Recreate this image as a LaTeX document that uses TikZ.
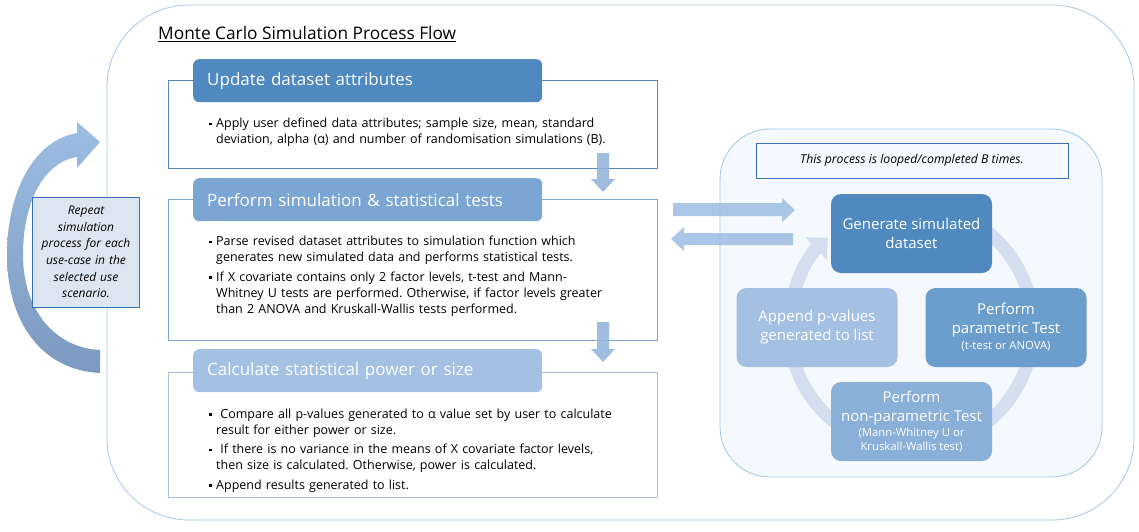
\documentclass[tikz,border=0pt]{standalone}
\usepackage{fontspec}
\setmainfont{Open Sans}
\usetikzlibrary{arrows.meta,positioning}
\definecolor{hdrA}{HTML}{4F89C0}
\definecolor{hdrB}{HTML}{7BA5D3}
\definecolor{hdrC}{HTML}{A4C0E3}
\definecolor{cycB}{HTML}{6B9DCD}
\definecolor{cycC}{HTML}{8AAFD9}
\definecolor{rimline}{HTML}{A5C5E9}
\definecolor{panelfill}{HTML}{F5F8FC}
\definecolor{ringcol}{HTML}{D3DEEF}
\definecolor{downfill}{HTML}{95B6DD}
\definecolor{sidefill}{HTML}{A2C0E3}
\definecolor{notefill}{HTML}{DCE6F2}
\definecolor{noteline}{HTML}{3A70B7}
\definecolor{curvetop}{HTML}{9DBDE3}
\definecolor{curvebot}{HTML}{7C99BF}
\frenchspacing
\newenvironment{dotlist}{\begin{list}{\raisebox{2.6pt}{\rule{2.3pt}{2.3pt}}}{%
  \setlength\leftmargin{9pt}\setlength\labelwidth{5pt}\setlength\labelsep{4.5pt}%
  \setlength\itemsep{3.5pt}\setlength\parsep{0pt}\setlength\topsep{0pt}\setlength\partopsep{0pt}}}%
  {\end{list}}
\newcommand\smallnote{\fontsize{11.3}{13}\selectfont}
\begin{document}
\begin{tikzpicture}[x=1pt,y=-1pt,
  hdr/.style={fill=#1, rounded corners=6pt, anchor=north west, text width=321pt, inner xsep=14pt,
    inner ysep=0pt, minimum height=43pt, align=left, text=white, font=\fontsize{17}{21}\selectfont},
  framebox/.style={draw=#1, line width=0.8pt, anchor=north west, inner sep=0pt},
  bodytext/.style={anchor=north west, inner sep=0pt, text width=445pt, font=\fontsize{12.5}{16}\selectfont},
  cyc/.style={fill=#1, rounded corners=10pt, minimum width=161pt, minimum height=79pt, inner sep=2pt,
    text=white, align=center, font=\fontsize{15}{19}\selectfont},
  blockarrow/.style={fill=#1, fill opacity=0.9}]
\useasboundingbox (0,0) rectangle (1139,532);
\draw[rimline, line width=0.8pt, rounded corners=82pt] (107,5) rectangle (1134,520);
\node[anchor=base west, inner sep=0pt, font=\fontsize{17.3}{20}\selectfont] (title) at (158,40)
  {\underline{Monte Carlo Simulation Process Flow}};

\node[framebox=hdrA, minimum width=489pt, minimum height=88pt] (box1) at (168,80) {};
\node[hdr=hdrA] (upd) at (193,59) {Update dataset attributes};
\node[bodytext] (upditems) at (207,111.5) {\begin{dotlist}
  \item Apply user defined data attributes; sample size, mean, standard\\
  deviation, alpha (α) and number of randomisation simulations (B).
  \end{dotlist}};

\node[framebox=hdrB, minimum width=489pt, minimum height=141pt] (box2) at (168,199) {};
\node[hdr=hdrB] (sim) at (193,178) {Perform simulation \& statistical tests};
\node[bodytext] (simitems) at (207,229.5) {\begin{dotlist}
  \item Parse revised dataset attributes to simulation function which\\
  generates new simulated data and performs statistical tests.
  \item If X covariate contains only 2 factor levels, t-test and Mann-\\
  Whitney U tests are performed. Otherwise, if factor levels greater\\
  than 2 ANOVA and Kruskall-Wallis tests performed.
  \end{dotlist}};

\node[framebox=hdrC, minimum width=489pt, minimum height=125pt] (box3) at (168,372) {};
\node[hdr=hdrC] (calc) at (193,349) {Calculate statistical power or size};
\node[bodytext] (calcitems) at (207,402) {\begin{dotlist}
  \item \ Compare all p-values generated to α value set by user to calculate\\
  result for either power or size.
  \item \ If there is no variance in the means of X covariate factor levels,\\
  then size is calculated. Otherwise, power is calculated.
  \item Append results generated to list.
  \end{dotlist}};

\fill[blockarrow=downfill] (597,153) -- (609,153) -- (609,179) -- (615,179) -- (603,192)
  -- (591,179) -- (597,179) -- cycle;
\fill[blockarrow=downfill] (597,322) -- (609,322) -- (609,349) -- (615,349) -- (603,362)
  -- (591,349) -- (597,349) -- cycle;

\shade[top color=curvetop, bottom color=curvebot] (100,373) .. controls (40,370) and (7,320) .. (7,255)
  .. controls (7,190) and (35,140) .. (77,133) -- (77,122) -- (100,142) -- (77,168) -- (77,157)
  .. controls (45,162) and (23,200) .. (23,255) .. controls (23,310) and (55,348) .. (100,350) -- cycle;
\node[draw=noteline, fill=notefill, line width=0.8pt, minimum width=107pt, minimum height=110pt,
  text width=104pt, inner sep=0pt, align=center, font=\itshape\fontsize{12}{16.7}\selectfont]
  (repeat) at (86,252) {Repeat\\ simulation\\ process for each\\ use-case in the\\ selected use\\ scenario.};

\draw[rimline, line width=0.8pt, fill=panelfill, rounded corners=50pt] (720,129) rectangle (1102,477);
\node[draw=noteline, fill=panelfill, line width=0.8pt, minimum width=312pt, minimum height=35pt,
  inner sep=0pt, font=\itshape\fontsize{12.2}{14}\selectfont] (loopnote) at (912,160.5)
  {This process is looped/completed B times.};

\fill[blockarrow=sidefill] (673,203) -- (782,203) -- (782,198) -- (795,210) -- (782,222)
  -- (782,216) -- (673,216) -- cycle;
\fill[blockarrow=sidefill] (793,233) -- (684,233) -- (684,227) -- (671,239) -- (684,251)
  -- (684,245) -- (793,245) -- cycle;

\draw[ringcol, line width=13pt, -{Triangle[width=30pt,length=16pt]}]
  (911,327) ++(-80:122) arc[start angle=-80, end angle=227, radius=122];

\node[cyc=hdrA] (gen) at (911.5,233.5) {Generate simulated\\ dataset};
\node[cyc=cycB] (para) at (1006,327.5) {Perform\\ parametric Test\\[-3pt] {\smallnote (t-test or ANOVA)}};
\node[cyc=cycC] (nonpara) at (911.5,421.5) {Perform\\ non-parametric Test\\[-4pt]
  {\smallnote (Mann-Whitney U or}\\[-5pt] {\smallnote Kruskall-Wallis test)}};
\node[cyc=hdrC] (append) at (817,327.5) {Append p-values\\ generated to list};
\end{tikzpicture}
\end{document}
